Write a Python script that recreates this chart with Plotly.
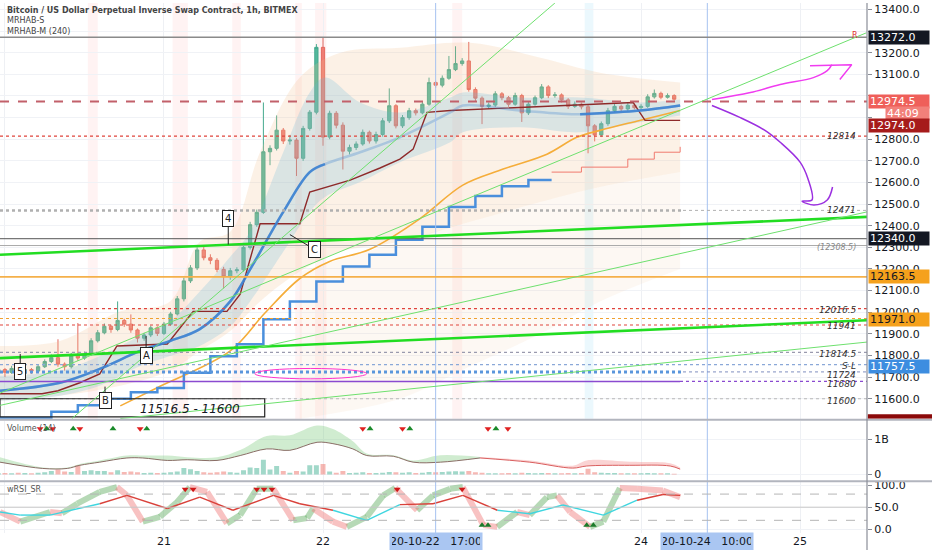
import pandas as pd
import plotly.graph_objects as go
from plotly.subplots import make_subplots

FONT = "DejaVu Sans"
BASE = pd.Timestamp("2020-10-20 00:00")


def t(h):
    return BASE + pd.Timedelta(hours=h)


# ---- hourly candles, h = -1 (19 Oct 23:00) .. 101 (24 Oct 05:00)
hours = list(range(-1, 102))
first_open = 11725
closes = [11735, 11722, 11740, 11718, 11735, 11728, 11748, 11772, 11790, 11760,
          11748, 11800, 11788, 11805, 11868, 11905, 11935, 11920, 11962, 11945,
          11918, 11880, 11895, 11928, 11902, 11945, 11992, 12062, 12145, 12205,
          12288, 12252, 12240, 12198, 12165, 12192, 12196, 12300, 12405, 12462,
          12742, 12758, 12842, 12792, 12796, 12712, 12850, 12925, 13225, 12810,
          12920, 12865, 12745, 12762, 12778, 12832, 12792, 12822, 12885, 12955,
          12862, 12900, 12932, 12922, 12962, 13062, 13050, 13082, 13122, 13150,
          13162, 13030, 12990, 12952, 12958, 13010, 12992, 12962, 13002, 12922,
          12962, 12992, 13042, 13002, 13005, 12982, 12952, 12962, 12950, 12862,
          12820, 12872, 12932, 12952, 12940, 12957, 12946, 12952, 12996, 13012,
          12994, 13002, 12985]
highs = [11750, 11742, 11752, 11745, 11748, 11742, 11760, 11782, 11805, 11875,
         11768, 11812, 11950, 11818, 11880, 11918, 11948, 11942, 12050, 11970,
         11990, 11925, 11905, 11938, 11935, 11955, 12002, 12075, 12160, 12218,
         12300, 12305, 12268, 12250, 12210, 12205, 12208, 12312, 12418, 12475,
         12970, 12772, 12910, 12852, 12820, 12805, 12862, 12935, 13240, 13272,
         12932, 12930, 12878, 12775, 12790, 12845, 12840, 12835, 12898, 13035,
         12962, 12912, 12945, 12942, 12975, 13085, 13070, 13095, 13185, 13230,
         13175, 13250, 13040, 12998, 12970, 13022, 13018, 13000, 13015, 13010,
         12972, 13002, 13055, 13050, 13018, 13012, 12990, 12975, 12970, 12958,
         12870, 12882, 12945, 12965, 12960, 12968, 12965, 12962, 13008, 13030,
         13020, 13012, 13008]
lows = [11715, 11700, 11715, 11700, 11712, 11715, 11720, 11742, 11765, 11748,
        11730, 11740, 11775, 11780, 11798, 11860, 11898, 11905, 11912, 11932,
        11905, 11860, 11868, 11885, 11890, 11895, 11938, 11985, 12050, 12135,
        12195, 12240, 12222, 12185, 12110, 12150, 12180, 12188, 12290, 12395,
        12455, 12680, 12748, 12778, 12775, 12630, 12700, 12840, 12915, 12770,
        12800, 12850, 12660, 12730, 12750, 12770, 12780, 12780, 12812, 12875,
        12850, 12852, 12890, 12910, 12915, 12955, 13038, 13040, 13075, 13115,
        13140, 13020, 12975, 12870, 12940, 12950, 12980, 12950, 12955, 12880,
        12912, 12955, 12985, 12990, 12992, 12970, 12940, 12945, 12938, 12735,
        12790, 12810, 12862, 12925, 12930, 12932, 12938, 12938, 12945, 12988,
        12985, 12988, 12978]
volumes = [0.03, 0.04, 0.03, 0.05, 0.04, 0.03, 0.05, 0.06, 0.10, 0.14,
           0.08, 0.07, 0.26, 0.10, 0.12, 0.10, 0.10, 0.06, 0.12, 0.07,
           0.08, 0.06, 0.04, 0.05, 0.04, 0.05, 0.06, 0.08, 0.18, 0.15,
           0.10, 0.06, 0.05, 0.06, 0.08, 0.06, 0.05, 0.12, 0.20, 0.18,
           0.42, 0.14, 0.24, 0.10, 0.05, 0.10, 0.08, 0.26, 0.26, 0.30,
           0.08, 0.05, 0.10, 0.04, 0.05, 0.06, 0.04, 0.04, 0.05, 0.07,
           0.06, 0.05, 0.06, 0.04, 0.05, 0.07, 0.06, 0.07, 0.08, 0.09,
           0.08, 0.10, 0.06, 0.05, 0.03, 0.03, 0.03, 0.04, 0.03, 0.05,
           0.04, 0.03, 0.04, 0.04, 0.03, 0.03, 0.04, 0.03, 0.04, 0.16,
           0.06, 0.05, 0.04, 0.04, 0.03, 0.03, 0.03, 0.03, 0.04, 0.03,
           0.03, 0.03, 0.02]
opens = [first_open] + closes[:-1]
times = [t(h) for h in hours]

# ---- indicator lines (hour, price)
blue_step_h = [-1, 3, 7, 11, 15, 19, 23, 27, 31, 35, 39, 43, 47, 51, 55, 59, 63, 67, 71, 75, 79, 82.5]
blue_step_p = [11511, 11511, 11540, 11570, 11600, 11630, 11650, 11720, 11797, 11852, 11967, 12050,
               12142, 12211, 12266, 12335, 12395, 12487, 12537, 12583, 12611, 12611]
red_step_h = [82.5, 87, 94, 98, 101.9]
red_step_p = [12648, 12671, 12708, 12740, 12765]

maroon_h = [-0.75, 5.6, 8.0, 11.3, 14.3, 16.9, 24.5, 28.4, 33.5, 35.5, 38.5, 44.5, 46.0, 52.1,
            56.6, 59.6, 61.6, 63.7, 67.2, 94.8, 96.6, 101.9]
maroon_p = [11623, 11623, 11637, 11674, 11715, 11844, 11853, 12004, 12004, 12083, 12409, 12409,
            12556, 12611, 12667, 12708, 12754, 12924, 12933, 12970, 12887, 12887]

orange_h = [17.4, 22.9, 34, 39.2, 44.5, 49, 55, 62.6, 69.1, 75.2, 81.8, 86.3, 89.8, 95.8, 101.9]
orange_p = [11567, 11650, 11821, 11995, 12156, 12235, 12290, 12432, 12588, 12662, 12731, 12809,
            12841, 12887, 12933]

ha_h = [-0.75, 8.3, 14.3, 20.4, 24.9, 29.4, 34.0, 37.0, 42.0, 46.0, 48.3, 53.6, 59.6, 67.2,
        69.1, 77.7, 86.8, 95.8, 101.9]
ha_mid = [11637, 11674, 11738, 11821, 11867, 11922, 12050, 12198, 12464, 12648, 12685, 12740,
          12809, 12924, 12956, 12933, 12915, 12933, 12956]
ha_upper = [11706, 11729, 11798, 11890, 11958, 12096, 12257, 12372, 12740, 13016, 13085, 12970,
            12924, 12993, 13016, 12993, 12993, 12970, 12984]
ha_lower = [11591, 11614, 11660, 11751, 11798, 11844, 11935, 12050, 12280, 12464, 12533, 12602,
            12694, 12786, 12832, 12855, 12832, 12878, 12910]

env_h = [-0.75, 8.3, 17.4, 24.9, 29.4, 34.0, 38.5, 44.5, 50.6, 59.6, 70.2, 80.8, 89.8, 101.9]
env_upper = [11844, 11867, 12004, 12050, 12326, 12372, 12740, 13085, 13200, 13223, 13246, 13177,
             13108, 13062]
env_lower = [11591, 11614, 11660, 11729, 11821, 11913, 12050, 12188, 12280, 12326, 12418, 12510,
             12579, 12648]
env2_h = [44.5, 59.6, 70.2, 80.8, 89.8, 101.9]
env2_upper = [12188, 12326, 12418, 12510, 12579, 12648]
env2_lower = [11508, 11600, 11750, 11900, 12050, 12200]

# ---- volume MA and envelope (billions)
vol_ma_h = [-0.75, 5.7, 9.4, 11.3, 14.3, 18.4, 20.8, 24.5, 27.5, 32, 35.5, 39.5, 43, 47.1,
            49.5, 52.5, 54.6, 58.6, 61.6, 65.7, 71.7, 79.2, 85.7, 87.8, 94.3, 100.4, 101.9]
vol_ma = [0.35, 0.17, 0.17, 0.26, 0.35, 0.47, 0.47, 0.40, 0.42, 0.40, 0.54, 0.73, 0.69, 0.92,
          0.88, 0.73, 0.54, 0.52, 0.35, 0.35, 0.47, 0.35, 0.18, 0.24, 0.26, 0.24, 0.15]
vol_upper = [0.49, 0.20, 0.20, 0.30, 0.40, 0.54, 0.54, 0.54, 0.49, 0.49, 0.70, 1.10, 1.12, 1.40,
             1.30, 0.95, 0.60, 0.55, 0.40, 0.55, 0.50, 0.40, 0.25, 0.40, 0.36, 0.32, 0.20]
vol_sell_h = [5.3, 7.2, 11.3, 20.4, 54, 60, 72.9, 75.9]
vol_buy_h = [6.3, 10.3, 16.3, 21.4, 55.1, 61.1, 74.1]

# ---- wRSI_SR
rsi_h = [-0.75, 2.3, 6.8, 8.6, 10.9, 14.3, 16.9, 18.4, 20.8, 23.4, 26, 27.9, 30.5, 33.5, 35.5,
         38, 40.5, 43.5, 45.6, 46.5, 49.5, 51.6, 54.6, 57.1, 58.9, 62.2, 64.6, 67.2, 69.1, 72.2,
         74.3, 77.3, 79.2, 81.8, 83.3, 85.3, 88.3, 90.3, 92.8, 95.4, 99.3, 101.9]
rsi_v = [39, 17, 39, 36, 58, 85, 96, 77, 17, 28, 62, 96, 85, 13, 32, 92, 92, 20, 25, 47, 17, 5,
         28, 77, 94, 43, 77, 92, 96, 9, 5, 39, 32, 73, 77, 39, 5, 17, 94, 92, 88, 73]
sig_h = [-0.75, 2.3, 6.8, 14.3, 18.4, 24.5, 29.4, 34.4, 40.5, 44.5, 49.5, 54.6, 59.6, 64.6,
         69.1, 74.3, 79.2, 84.2, 90.3, 95.4, 99.3, 101.9]
sig_v = [39, 32, 32, 58, 77, 47, 73, 43, 77, 58, 43, 20, 56, 58, 77, 43, 35, 55, 32, 66, 79, 77]
rsi_top_h = [27.2, 28.4, 38, 39.1, 40.3, 59.2, 69]
rsi_bottom_h = [72, 72.9, 87.8, 88.8]

# ---- drawings
trend_thick = [([-0.75, 130.1], [12266, 12441]), ([-0.75, 130.1], [11788, 11963])]
trend_thin = [([10.1, 83], [11508, 13430]), ([-10, 130], [11508, 13292]),
              ([-9.7, 130.1], [11508, 12464]), ([17.4, 130.1], [11508, 11862])]
pink_stripes = [(12.5, 14), (25.3, 27.6), (34.3, 35.6), (43.8, 44.8), (46.8, 48.5), (67.5, 69)]
cyan_stripes = [(87.5, 88.8)]
marked_hours = [65, 106]
magenta_h1 = [106.7, 112.5, 117, 122, 124.1, 124.8]
magenta_p1 = [12984, 13016, 13053, 13085, 13117, 13145]
magenta_h2 = [121.5, 127.8, 126]
magenta_p2 = [13140, 13145, 13076]
purple_h = [106.7, 110.9, 114.7, 117, 120, 121.2, 121.8, 120.3, 122.1, 124.1, 124.9]
purple_p = [12956, 12901, 12841, 12786, 12694, 12616, 12519, 12514, 12496, 12519, 12579]

day_hours = [0, 24, 48, 96, 120]
day_labels = ["20", "21", "22", "24", "25"]

GREEN = "#53b89c"
RED = "#ef7d74"

fig = make_subplots(rows=3, cols=1, shared_xaxes=True, vertical_spacing=0.004,
                    row_heights=[0.785, 0.118, 0.097])

# envelopes
fig.add_trace(go.Scatter(x=[t(h) for h in env2_h], y=env2_upper, mode="lines", line=dict(width=0),
                         line_shape="spline", hoverinfo="skip"), row=1, col=1)
fig.add_trace(go.Scatter(x=[t(h) for h in env2_h], y=env2_lower, mode="lines", line=dict(width=0),
                         line_shape="spline", fill="tonexty", fillcolor="rgba(240,200,160,0.13)",
                         hoverinfo="skip"), row=1, col=1)
fig.add_trace(go.Scatter(x=[t(h) for h in env_h], y=env_upper, mode="lines", line=dict(width=0),
                         line_shape="spline", hoverinfo="skip"), row=1, col=1)
fig.add_trace(go.Scatter(x=[t(h) for h in env_h], y=env_lower, mode="lines", line=dict(width=0),
                         line_shape="spline", fill="tonexty", fillcolor="rgba(240,190,140,0.22)",
                         hoverinfo="skip"), row=1, col=1)
fig.add_trace(go.Scatter(x=[t(h) for h in ha_h], y=ha_upper, mode="lines", line=dict(width=0),
                         line_shape="spline", hoverinfo="skip"), row=1, col=1)
fig.add_trace(go.Scatter(x=[t(h) for h in ha_h], y=ha_lower, mode="lines", line=dict(width=0),
                         line_shape="spline", fill="tonexty", fillcolor="rgba(100,180,220,0.22)",
                         hoverinfo="skip"), row=1, col=1)

# indicator lines
fig.add_trace(go.Scatter(x=[t(h) for h in orange_h], y=orange_p, mode="lines", line_shape="spline",
                         line=dict(color="#f5ad3a", width=1.6)), row=1, col=1)
fig.add_trace(go.Scatter(x=[t(h) for h in blue_step_h], y=blue_step_p, mode="lines", line_shape="hv",
                         line=dict(color="#4a8fdc", width=2.5)), row=1, col=1)
fig.add_trace(go.Scatter(x=[t(h) for h in red_step_h], y=red_step_p, mode="lines", line_shape="hv",
                         line=dict(color="#f07a6e", width=1)), row=1, col=1)
fig.add_trace(go.Scatter(x=[t(h) for h in maroon_h], y=maroon_p, mode="lines",
                         line=dict(color="#8e2a2a", width=1.4)), row=1, col=1)
# the smoothed line is strong at both ends and fades inside its band in the middle
hx = [t(h) for h in ha_h]
fig.add_trace(go.Scatter(x=hx, y=ha_mid, mode="lines", line_shape="spline",
                         line=dict(color="rgba(60,130,210,0.3)", width=2.5)), row=1, col=1)
fig.add_trace(go.Scatter(x=hx[:11], y=ha_mid[:11], mode="lines", line_shape="spline",
                         line=dict(color="rgba(60,130,210,0.9)", width=2.5)), row=1, col=1)
fig.add_trace(go.Scatter(x=hx[-3:], y=ha_mid[-3:], mode="lines", line_shape="spline",
                         line=dict(color="rgba(60,130,210,0.9)", width=2.5)), row=1, col=1)

fig.add_trace(go.Candlestick(x=times, open=opens, high=highs, low=lows, close=closes,
                             increasing=dict(line=dict(color="#45a98e", width=1), fillcolor=GREEN),
                             decreasing=dict(line=dict(color="#e4675e", width=1), fillcolor=RED),
                             whiskerwidth=0), row=1, col=1)

# volume
vol_colors = ["rgba(83,184,156,0.55)" if c >= o else "rgba(239,125,116,0.55)" for o, c in zip(opens, closes)]
fig.add_trace(go.Bar(x=times, y=volumes, marker=dict(color=vol_colors, line=dict(width=0))), row=2, col=1)
split = 20
vx = [t(h) for h in vol_ma_h]
fig.add_trace(go.Scatter(x=vx[:split + 1], y=vol_upper[:split + 1], mode="lines", line=dict(width=0),
                         line_shape="spline"), row=2, col=1)
fig.add_trace(go.Scatter(x=vx[:split + 1], y=vol_ma[:split + 1], mode="lines", line=dict(width=0),
                         line_shape="spline", fill="tonexty", fillcolor="rgba(120,200,120,0.35)"), row=2, col=1)
fig.add_trace(go.Scatter(x=vx[split:], y=vol_upper[split:], mode="lines", line=dict(width=0),
                         line_shape="spline"), row=2, col=1)
fig.add_trace(go.Scatter(x=vx[split:], y=vol_ma[split:], mode="lines", line=dict(width=0),
                         line_shape="spline", fill="tonexty", fillcolor="rgba(240,130,130,0.35)"), row=2, col=1)
fig.add_trace(go.Scatter(x=vx[:split + 1], y=vol_ma[:split + 1], mode="lines", line_shape="spline",
                         line=dict(color="#8a6d66", width=1)), row=2, col=1)
fig.add_trace(go.Scatter(x=vx[split:], y=vol_ma[split:], mode="lines", line_shape="spline",
                         line=dict(color="#d95f5f", width=1)), row=2, col=1)
fig.add_trace(go.Scatter(x=[t(h) for h in vol_sell_h], y=[1.31] * len(vol_sell_h), mode="markers",
                         marker=dict(symbol="triangle-down", color="#e02020", size=6)), row=2, col=1)
fig.add_trace(go.Scatter(x=[t(h) for h in vol_buy_h], y=[1.31] * len(vol_buy_h), mode="markers",
                         marker=dict(symbol="triangle-up", color="#1a8a2a", size=6)), row=2, col=1)


# wRSI ribbon and signal
def segments(xs, ys, keep):
    sx, sy = [], []
    for i in range(len(xs) - 1):
        if keep(i):
            sx += [xs[i], xs[i + 1], None]
            sy += [ys[i], ys[i + 1], None]
    return sx, sy


rx = [t(h) for h in rsi_h]
gx, gy = segments(rx, rsi_v, lambda i: rsi_v[i + 1] >= rsi_v[i])
px_, py_ = segments(rx, rsi_v, lambda i: rsi_v[i + 1] < rsi_v[i])
fig.add_trace(go.Scatter(x=gx, y=gy, mode="lines", line=dict(color="rgba(110,180,110,0.5)", width=6)),
              row=3, col=1)
fig.add_trace(go.Scatter(x=px_, y=py_, mode="lines", line=dict(color="rgba(240,120,120,0.45)", width=6)),
              row=3, col=1)
sx = [t(h) for h in sig_h]
cx, cy = segments(sx, sig_v, lambda i: (sig_v[i] + sig_v[i + 1]) / 2 < 50)
rx2, ry2 = segments(sx, sig_v, lambda i: (sig_v[i] + sig_v[i + 1]) / 2 >= 50)
fig.add_trace(go.Scatter(x=cx, y=cy, mode="lines", line=dict(color="#3fd6e0", width=1.4)), row=3, col=1)
fig.add_trace(go.Scatter(x=rx2, y=ry2, mode="lines", line=dict(color="#d9413a", width=1.4)), row=3, col=1)
fig.add_trace(go.Scatter(x=[t(h) for h in rsi_top_h], y=[91] * len(rsi_top_h), mode="markers",
                         marker=dict(symbol="triangle-down", color="#d01818", size=6)), row=3, col=1)
fig.add_trace(go.Scatter(x=[t(h) for h in rsi_bottom_h], y=[9] * len(rsi_bottom_h), mode="markers",
                         marker=dict(symbol="triangle-up", color="#1a7a2a", size=6)), row=3, col=1)

# hand drawings
fig.add_trace(go.Scatter(x=[t(h) for h in magenta_h1], y=magenta_p1, mode="lines", line_shape="spline",
                         line=dict(color="#f03cf0", width=1.5)), row=1, col=1)
fig.add_trace(go.Scatter(x=[t(h) for h in magenta_h2], y=magenta_p2, mode="lines",
                         line=dict(color="#f03cf0", width=1.5)), row=1, col=1)
fig.add_trace(go.Scatter(x=[t(h) for h in purple_h], y=purple_p, mode="lines", line_shape="spline",
                         line=dict(color="#9b30e0", width=1.5)), row=1, col=1)

MAIN_DOM = [0.2158, 1]
shapes = []
for a, b in pink_stripes:
    shapes.append(dict(type="rect", xref="x", yref="paper", x0=t(a), x1=t(b), y0=MAIN_DOM[0], y1=1,
                       fillcolor="rgba(255,120,120,0.09)", line=dict(width=0), layer="below"))
for a, b in cyan_stripes:
    shapes.append(dict(type="rect", xref="x", yref="paper", x0=t(a), x1=t(b), y0=MAIN_DOM[0], y1=1,
                       fillcolor="rgba(120,210,240,0.15)", line=dict(width=0), layer="below"))
for h in marked_hours:
    shapes.append(dict(type="line", xref="x", yref="paper", x0=t(h), x1=t(h), y0=0, y1=1,
                       line=dict(color="#a6c2f0", width=1)))


def hline(price, color, width=1, dash="solid", x0=0, x1=1):
    shapes.append(dict(type="line", xref="paper", yref="y", x0=x0, x1=x1, y0=price, y1=price,
                       line=dict(color=color, width=width, dash=dash)))


end_dots = 683 / 867
hline(13272.0, "#8a8a8a", 1.5)
hline(12974.5, "#c2606a", 2, "dash")
hline(12814, "#e0443c", 1.2, "dot")
hline(12471, "#b0b0b0", 2.5, "dot", 0, end_dots)
hline(12471, "#b0b0b0", 1, "dot", end_dots, 1)
hline(12340, "#555555", 1)
hline(12308.5, "#aaaaaa", 1)
hline(12163.5, "#f5b04a", 1.8)
hline(12016.5, "#e0443c", 1.2, "dot")
hline(11971, "#f0a030", 1.2, "dot")
hline(11941, "#e0443c", 1.2, "dot")
hline(11814.5, "#9a9aae", 1.2, "dot")
hline(11757.5, "#8aa8d8", 1.2, "dot")
hline(11724, "#5a96dc", 3, "dot", 0, end_dots)
hline(11724, "#7f8fbf", 1, "dot", end_dots, 1)
hline(11680, "#8a4ad0", 1.4, "solid", 0, 680 / 867)
hline(11680, "#8a4ad0", 1.2, "dot", 680 / 867, 1)
hline(11600, "#b8b8b8", 1.2, "dot")

shapes.append(dict(type="rect", xref="x", yref="y", x0=t(-0.75), x1=t(39.2), y0=11516.5, y1=11600,
                   line=dict(color="#222222", width=1.2), fillcolor="rgba(0,0,0,0)"))
shapes.append(dict(type="circle", xref="x", yref="y", x0=t(37.7), x1=t(54.6), y0=11692, y1=11740,
                   line=dict(color="#ff33cc", width=1)))
for xs, ps in trend_thick:
    shapes.append(dict(type="line", xref="x", yref="y", x0=t(xs[0]), x1=t(xs[1]), y0=ps[0], y1=ps[1],
                       line=dict(color="#22dd22", width=2.6)))
for xs, ps in trend_thin:
    shapes.append(dict(type="line", xref="x", yref="y", x0=t(xs[0]), x1=t(xs[1]), y0=ps[0], y1=ps[1],
                       line=dict(color="#6ee06e", width=1)))

# rsi guide lines
for lvl, dash, col in [(80, "dash", "#b5b5b5"), (20, "dash", "#b5b5b5"), (50, "solid", "#c8c8c8")]:
    shapes.append(dict(type="line", xref="paper", yref="y3", x0=0, x1=1, y0=lvl, y1=lvl,
                       line=dict(color=col, width=1, dash=dash)))
# pane separators and axis line
for yy in [0.2139, 0.0976]:
    shapes.append(dict(type="line", xref="paper", yref="paper", x0=0, x1=1.075, y0=yy, y1=yy,
                       line=dict(color="#b2b5be", width=2)))
shapes.append(dict(type="line", xref="paper", yref="paper", x0=1, x1=1, y0=-0.035, y1=1,
                   line=dict(color="#8a8e98", width=1.2)))
shapes.append(dict(type="rect", xref="paper", yref="y", x0=1.001, x1=1.075, y0=11508, y1=11528,
                   fillcolor="#8b0a0a", line=dict(width=0)))

annotations = []


def axis_label(price, text, bg, fg="white", xshift=1, width=58):
    annotations.append(dict(xref="paper", x=1, xanchor="left", xshift=xshift, yref="y", y=price,
                            text=text, showarrow=False, bgcolor=bg, width=width, height=11, align="left",
                            borderpad=1, font=dict(color=fg, size=11, family=FONT)))


def level_text(price, text, size=9, color="#333333"):
    annotations.append(dict(xref="paper", x=858 / 867, xanchor="right", yref="y", y=price,
                            text="<i>" + text + "</i>", showarrow=False, height=10,
                            font=dict(color=color, size=size, family=FONT)))


def callout(h, price, text, ax, ay):
    annotations.append(dict(xref="x", yref="y", x=t(h), y=price, text=text, showarrow=True,
                            arrowhead=0, arrowwidth=1, arrowcolor="#222222", ax=ax, ay=ay,
                            bgcolor="white", bordercolor="#222222", borderwidth=1, borderpad=2,
                            font=dict(color="#222222", size=10, family=FONT)))


axis_label(13272.0, "13272.0", "#131722")
axis_label(12974.5, "12974.5", "#ef5f5a")
axis_label(12918, "44:09", "#f2807a", xshift=18, width=41)
axis_label(12862, "12974.0", "#a61b1b")
axis_label(12340, "12340.0", "#131722")
axis_label(12163.5, "12163.5", "#f5a11c", fg="#131722")
axis_label(11966, "11971.0", "#f5a11c", fg="#131722")
axis_label(11748, "11757.5", "#3d8de0")

level_text(12814, "12814")
level_text(12471, "12471")
level_text(12300, "(12308.5)", size=8, color="#888888")
level_text(12009, "12016.5")
level_text(11936, "11941")
level_text(11806, "11814.5")
level_text(11752, "S-L")
level_text(11710, "11724")
level_text(11668, "11680")
level_text(11590, "11600")

annotations.append(dict(xref="x", yref="y", x=t(128.3), y=13282, text="R", showarrow=False,
                        font=dict(color="#e03030", size=8, family=FONT)))
annotations.append(dict(xref="x", yref="y", x=t(27.9), y=11552, text="<i>11516.5 - 11600</i>",
                        showarrow=False, font=dict(color="#131722", size=12, family=FONT)))

callout(2.3, 11807, "5", 0, 18)
callout(21.3, 11890, "A", 0, 19)
callout(15.1, 11656, "B", 0, 14)
callout(33.7, 12313, "4", 0, -26)
callout(43, 12359, "C", 25, 15)

# legend texts
annotations.append(dict(xref="paper", yref="paper", x=5 / 867, y=1 - 1 / 533, xanchor="left", yanchor="top",
                        text="<b>Bitcoin / US Dollar Perpetual Inverse Swap Contract, 1h, BITMEX</b><br>MRHAB-S<br>MRHAB-M (240)",
                        showarrow=False, align="left",
                        font=dict(color="#444444", size=8, family=FONT)))
annotations.append(dict(xref="paper", yref="paper", x=5 / 867, y=(533 - 421) / 533, xanchor="left",
                        yanchor="top", text="Volume (14)", showarrow=False,
                        font=dict(color="#555555", size=8, family=FONT)))
annotations.append(dict(xref="paper", yref="paper", x=5 / 867, y=(533 - 483) / 533, xanchor="left",
                        yanchor="top", text="wRSI_SR", showarrow=False,
                        font=dict(color="#555555", size=8, family=FONT)))

# highlighted date boxes on the time axis
for h, txt in [(65, "20-10-22   17:00"), (106, "20-10-24   10:00")]:
    annotations.append(dict(xref="x", yref="paper", x=t(h), y=-9 / 533, yanchor="middle", text=txt,
                            showarrow=False, bgcolor="#aac6f2", width=88, height=13, borderpad=2,
                            font=dict(color="#131722", size=11, family=FONT)))

price_ticks = list(range(11600, 13401, 100))
hidden_ticks = [13300, 13000, 12900]
x_range = [t(-0.75), t(130.1)]
axis_font = dict(family=FONT, size=11, color="#131722")

fig.update_layout(
    width=932, height=550,
    margin=dict(l=0, r=65, t=0, b=17),
    plot_bgcolor="white", paper_bgcolor="white",
    showlegend=False, hovermode=False,
    shapes=shapes, annotations=annotations,
    bargap=0.25,
)
common_x = dict(range=x_range, showgrid=True, gridcolor="#eef0f4", tickvals=[t(h) for h in day_hours],
                ticktext=day_labels, zeroline=False, showline=False, tickfont=axis_font, ticks="")
fig.update_xaxes(**common_x)
fig.update_xaxes(rangeslider=dict(visible=False), row=1, col=1)
fig.update_xaxes(showticklabels=True, row=3, col=1)

common_y = dict(side="right", showgrid=True, gridcolor="#f0f2f6", zeroline=False, tickfont=axis_font,
                ticks="outside", ticklen=4, tickcolor="#8a8e98", showline=False)
fig.update_layout(
    yaxis=dict(domain=MAIN_DOM, range=[11508, 13430], tickvals=price_ticks,
               ticktext=["" if v in hidden_ticks else f"{v}.0" for v in price_ticks], **common_y),
    yaxis2=dict(domain=[0.0994, 0.212], range=[-0.17, 1.54], tickvals=[0, 1], ticktext=["0", "1B"],
                **common_y),
    yaxis3=dict(domain=[0, 0.0957], range=[-9, 107], tickvals=[0, 50, 100],
                ticktext=["0.0", "50.0", "100.0"], **common_y),
)

# the page is photographed from its top-left corner, so drop the default body margin
fig.write_html("out.html", config={"displayModeBar": False},
               post_script="document.body.style.margin = '0px';")
